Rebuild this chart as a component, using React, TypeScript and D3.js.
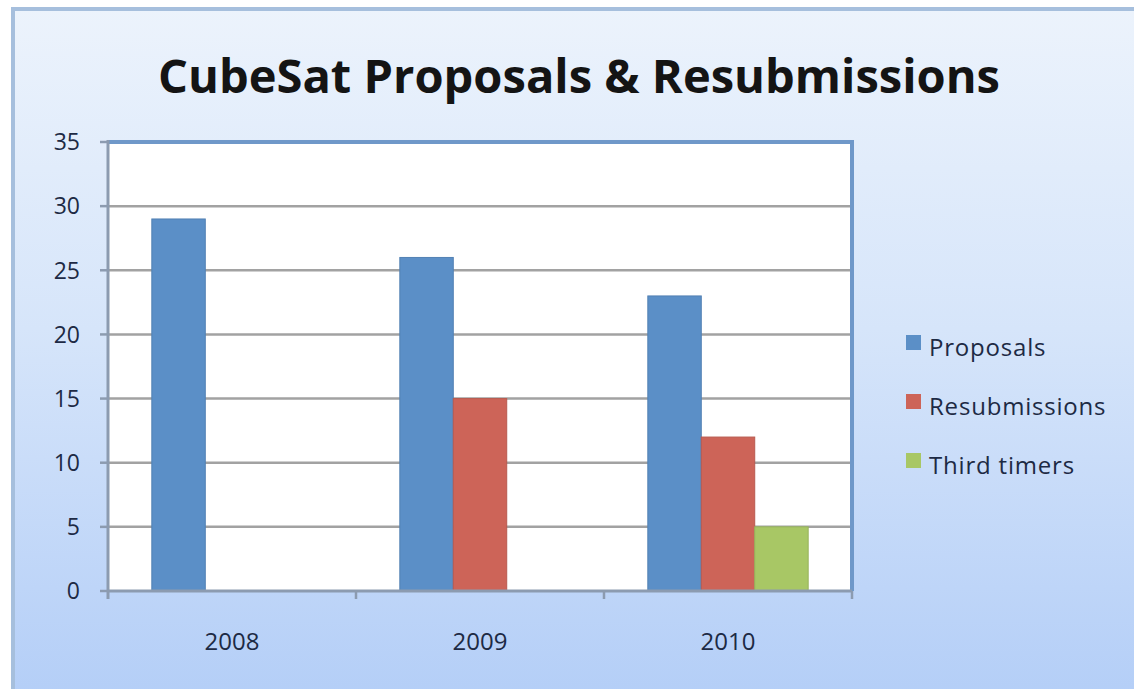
import React from "react";
import * as d3 from "d3";

const categories = ["2008", "2009", "2010"];
const seriesNames = ["Proposals", "Resubmissions", "Third timers"];
const proposals = [29, 26, 23];
const resubmissions = [0, 15, 12];
const thirdTimers = [0, 0, 5];
const yTicks = [0, 5, 10, 15, 20, 25, 30, 35];
const colors = ["#5b8fc7", "#cd6458", "#a8c765"];

const W = 1134;
const H = 689;
const plot = { left: 108, right: 852, top: 142, bottom: 591 };
const FONT = "'Open Sans', 'Noto Sans', sans-serif";

export default function App() {
  const series = [proposals, resubmissions, thirdTimers];
  const x = d3.scaleBand<string>().domain(categories).range([plot.left, plot.right]).paddingInner(0).paddingOuter(0);
  const inner = d3
    .scaleBand<string>()
    .domain(seriesNames)
    .range([0, x.bandwidth()])
    .paddingInner(0)
    .paddingOuter(0.82);
  const y = d3.scaleLinear().domain([0, 35]).range([plot.bottom, plot.top]);

  return (
    <svg width={W} height={H} style={{ position: "absolute", left: 0, top: 0, display: "block" }}>
      <defs>
        <linearGradient id="bg" x1="0" y1="0" x2="0" y2="1">
          <stop offset="0" stopColor="#ecf3fc" />
          <stop offset="0.45" stopColor="#d6e5fa" />
          <stop offset="1" stopColor="#b2cdf7" />
        </linearGradient>
      </defs>
      <rect x={0} y={0} width={W} height={H} fill="#ffffff" />
      <rect x={13} y={9} width={W + 20} height={H + 20} fill="url(#bg)" stroke="#a6bfdd" strokeWidth={4} />

      <text
        x={579}
        y={93}
        textAnchor="middle"
        fontFamily={FONT}
        fontWeight={700}
        fontSize={47}
        fill="#141414"
        textLength={842}
        lengthAdjust="spacingAndGlyphs"
      >
        CubeSat Proposals &amp; Resubmissions
      </text>

      {/* plot area */}
      <rect x={plot.left} y={plot.top} width={plot.right - plot.left} height={plot.bottom - plot.top} fill="#ffffff" />

      {/* gridlines */}
      {yTicks.filter((t) => t > 0 && t < 35).map((t) => (
        <line key={t} x1={plot.left} x2={plot.right} y1={y(t)} y2={y(t)} stroke="#a2a2a2" strokeWidth={2.5} />
      ))}

      {/* bars */}
      {categories.map((c, ci) =>
        series.map((s, si) =>
          s[ci] > 0 ? (
            <rect
              key={c + si}
              x={(x(c) as number) + (inner(seriesNames[si]) as number)}
              y={y(s[ci])}
              width={inner.bandwidth()}
              height={y(0) - y(s[ci])}
              fill={colors[si]}
              stroke={d3.color(colors[si])!.darker(0.3).toString()}
              strokeWidth={1}
            />
          ) : null
        )
      )}

      {/* frame: top and right blue */}
      <line x1={plot.left} x2={plot.right + 2} y1={plot.top} y2={plot.top} stroke="#6f98c9" strokeWidth={4} />
      <line x1={plot.right} x2={plot.right} y1={plot.top} y2={plot.bottom} stroke="#6f98c9" strokeWidth={4} />

      {/* y axis */}
      <line x1={plot.left} x2={plot.left} y1={plot.top - 2} y2={plot.bottom + 8} stroke="#8c9bb0" strokeWidth={3} />
      {yTicks.map((t) => (
        <g key={t}>
          <line x1={plot.left - 8} x2={plot.left} y1={y(t)} y2={y(t)} stroke="#8c9bb0" strokeWidth={2.5} />
          <text x={80} y={y(t)} dy="0.36em" textAnchor="end" fontFamily={FONT} fontSize={23} fill="#1d2a44">
            {t}
          </text>
        </g>
      ))}

      {/* x axis */}
      <line x1={plot.left} x2={plot.right} y1={plot.bottom} y2={plot.bottom} stroke="#8c9bb0" strokeWidth={3} />
      {categories.map((c) => (
        <line
          key={"tk" + c}
          x1={(x(c) as number) + x.bandwidth()}
          x2={(x(c) as number) + x.bandwidth()}
          y1={plot.bottom}
          y2={plot.bottom + 8}
          stroke="#8c9bb0"
          strokeWidth={2.5}
        />
      ))}
      {categories.map((c) => (
        <text
          key={"lb" + c}
          x={(x(c) as number) + x.bandwidth() / 2}
          y={641}
          dy="0.36em"
          textAnchor="middle"
          fontFamily={FONT}
          fontSize={24}
          fill="#1d2a44"
        >
          {c}
        </text>
      ))}

      {/* legend */}
      {seriesNames.map((n, i) => (
        <g key={n} transform={`translate(0, ${343 + i * 59})`}>
          <rect x={906} y={-8} width={15} height={15} fill={colors[i]} />
          <text x={929} y={4} dy="0.36em" fontFamily={FONT} fontSize={24} letterSpacing={0.8} fill="#1d2a44">
            {n}
          </text>
        </g>
      ))}
    </svg>
  );
}
